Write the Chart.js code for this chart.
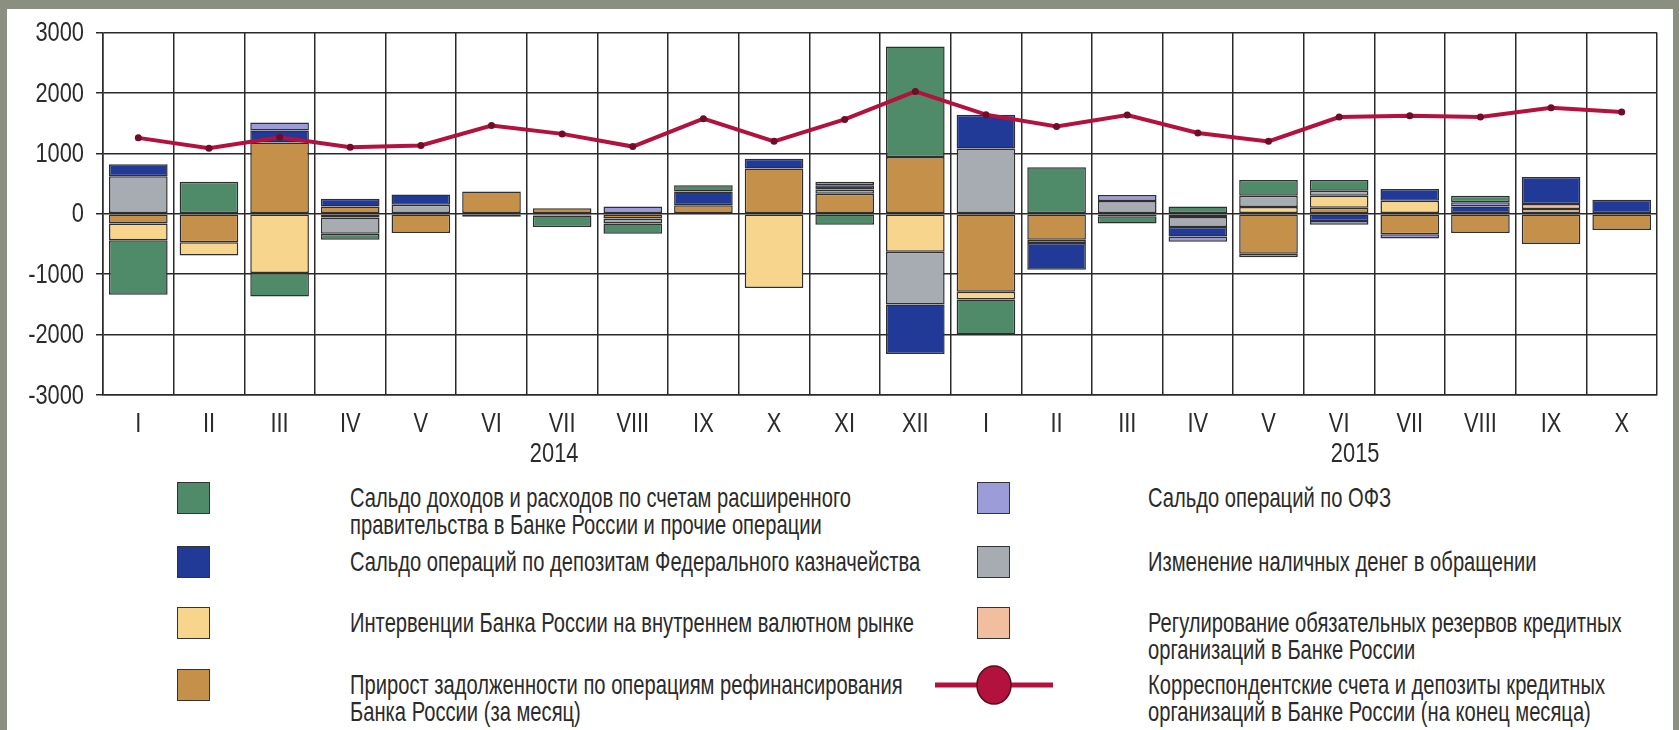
<!DOCTYPE html>
<html>
<head>
<meta charset="utf-8">
<script src="https://cdn.jsdelivr.net/npm/chart.js@4.4.1/dist/chart.umd.min.js"></script>
<style>
  html, body { margin: 0; padding: 0; width: 1679px; height: 730px; overflow: hidden; background: #8b8f7f; }
  #panel { position: absolute; left: 7px; top: 9px; width: 1666px; height: 721px; background: #fff; }
  #chart { position: absolute; left: 0; top: 0; }
  .lg-box { position: absolute; width: 33px; height: 32px; border: 1.5px solid #333; box-sizing: border-box; }
  .lg-text { position: absolute; font-family: "Liberation Sans", Arial, sans-serif;
             font-size: 28px; line-height: 26.5px; color: #2b2b2b; white-space: pre;
             transform: scaleX(0.72); transform-origin: 0 0; }
  .lg-line { position: absolute; }
</style>
</head>
<body>
<div id="panel">
  <canvas id="chart" width="1666" height="461"></canvas>
  <div id="legend"></div>
</div>
<script>
// months on the axis, 2014 I..XII and 2015 I..X
const months = ['I','II','III','IV','V','VI','VII','VIII','IX','X','XI','XII',
                'I','II','III','IV','V','VI','VII','VIII','IX','X'];
const years = ['2014', '2015'];

// monthly flows, bn rub
const flowRefi     = [-160,-470,1180, 120,-320, 370,  90, -80, 140, 750, 330, 940,-1290,-430, -40, -55,-660, 100,-340,-320,-500,-270];
const flowFx       = [-280,-220,-980, -60, null,null,null,null,null,-1230,null,-630,-130, -55, null,null, 110, 200, 215, null, 80, null];
const flowReserves = [null,null,null,null,null,null,null,null,null,null,null,null,null,null,null,null,null,null,null,null, 80, null];
const flowCash     = [ 620,null,null,-270, 150,null, -30, -80,null,null,  70,-870,1080,null, 210,-165, 190,  80, null,null,null,null];
const flowTreasury = [ 200,null, 200, 130, 170, -50,null,null, 230, 160,  70,-820, 560,-440, null,-155, null,-120, 195, 120, 450, 230];
const flowOfz      = [null,null, 130,null,null,null,null, 120,null,null,  60,null,null,null, 100, -90, -60, -60, -70,  70, null,null];
const flowGov      = [-900, 530,-390,-100,null,null,-190,-170, 100,null,-180,1830,-580, 770,-120, 120, 260, 180, null, 110, null,null];
const corrAccounts = [1256,1085,1266,1101,1129,1459,1322,1112,1573,1198,1562,2025,1640,1446,1635,1336,1198,1600,1623,1600,1755,1685];

const labelGov = 'Сальдо доходов и расходов по счетам расширенного\nправительства в Банке России и прочие операции';
const labelTreasury = 'Сальдо операций по депозитам Федерального казначейства';
const labelFx = 'Интервенции Банка России на внутреннем валютном рынке';
const labelRefi = 'Прирост задолженности по операциям рефинансирования\nБанка России (за месяц)';
const labelOfz = 'Сальдо операций по ОФЗ';
const labelCash = 'Изменение наличных денег в обращении';
const labelReserves = 'Регулирование обязательных резервов кредитных\nорганизаций в Банке России';
const labelCorr = 'Корреспондентские счета и депозиты кредитных\nорганизаций в Банке России (на конец месяца)';

const COLORS = {
  gov: '#4f8b69', treasury: '#213a98', fx: '#f7d58c', refi: '#c4904a',
  ofz: '#9c9cd9', cash: '#a7acb3', reserves: '#f1bfa0', corr: '#b3123f'
};

const AXIS_FONT = '28px "Liberation Sans", Arial, sans-serif';
const SQUEEZE = 0.78;   // condensed look of the original typeface
const TEXT = '#2b2b2b';
const GRID = '#2a2a2a';

function barSet(label, data, color) {
  return {
    type: 'bar', label: label, data: data, backgroundColor: color,
    borderColor: '#2f2f2f', borderWidth: 1.5, borderSkipped: false,
    stack: 'flows', order: 0, barPercentage: 0.83, categoryPercentage: 1.0
  };
}

// stacking order from zero outwards
const datasets = [
  barSet(labelRefi, flowRefi, COLORS.refi),
  barSet(labelFx, flowFx, COLORS.fx),
  barSet(labelReserves, flowReserves, COLORS.reserves),
  barSet(labelCash, flowCash, COLORS.cash),
  barSet(labelTreasury, flowTreasury, COLORS.treasury),
  barSet(labelOfz, flowOfz, COLORS.ofz),
  barSet(labelGov, flowGov, COLORS.gov),
  {
    type: 'line', label: labelCorr, data: corrAccounts, stack: 'corr', order: -1,
    borderColor: COLORS.corr, borderWidth: 4, tension: 0,
    pointRadius: 3.5, pointBackgroundColor: '#6e0d25', pointBorderWidth: 0
  }
];

function squeezedText(ctx, text, x, y, align) {
  ctx.save();
  ctx.translate(x, y);
  ctx.scale(SQUEEZE, 1);
  ctx.textAlign = align;
  ctx.fillText(text, 0, 0);
  ctx.restore();
}

// tick labels and year captions, drawn narrow like the source font
const axisText = {
  id: 'axisText',
  afterDraw(chart) {
    const ctx = chart.ctx, xs = chart.scales.x, ys = chart.scales.y;
    ctx.save();
    ctx.font = AXIS_FONT;
    ctx.fillStyle = TEXT;
    ctx.textBaseline = 'middle';
    ys.ticks.forEach(t => squeezedText(ctx, String(t.value), chart.chartArea.left - 19, ys.getPixelForValue(t.value) + 1, 'right'));
    chart.data.labels.forEach((lab, i) => squeezedText(ctx, lab, xs.getPixelForValue(i), 415, 'center'));
    const spots = [xs.getPixelForValue(6) - 8, xs.getPixelForValue(17) + 16];
    years.forEach((y, i) => squeezedText(ctx, y, spots[i], 445, 'center'));
    ctx.restore();
  }
};

new Chart(document.getElementById('chart'), {
  data: { labels: months, datasets: datasets },
  plugins: [axisText],
  options: {
    responsive: false,
    animation: false,
    devicePixelRatio: 1,
    layout: { padding: { top: 23.5, right: 16, left: 0, bottom: 0 } },
    plugins: { legend: { display: false }, tooltip: { enabled: false } },
    scales: {
      x: {
        stacked: true,
        grid: { color: GRID, lineWidth: 1.5, drawTicks: false, offset: true },
        border: { color: GRID, width: 1.5 },
        ticks: { display: false },
        afterFit(scale) { scale.height = 75; }
      },
      y: {
        stacked: true,
        min: -3000, max: 3000,
        grid: { color: GRID, lineWidth: 1.5, tickLength: 7 },
        border: { color: GRID, width: 1.5 },
        ticks: { display: false, stepSize: 1000 },
        afterFit(scale) { scale.width = 96; }
      }
    }
  }
});

// legend (two columns) built from the dataset labels
const legendItems = [
  { label: labelGov, color: COLORS.gov, col: 0, row: 0 },
  { label: labelTreasury, color: COLORS.treasury, col: 0, row: 1 },
  { label: labelFx, color: COLORS.fx, col: 0, row: 2 },
  { label: labelRefi, color: COLORS.refi, col: 0, row: 3 },
  { label: labelOfz, color: COLORS.ofz, col: 1, row: 0 },
  { label: labelCash, color: COLORS.cash, col: 1, row: 1 },
  { label: labelReserves, color: COLORS.reserves, col: 1, row: 2 },
  { label: labelCorr, color: COLORS.corr, col: 1, row: 3, line: true }
];
const rowCenters = [489, 553, 614, 676];
const colBoxX = [170, 970];
const colTextX = [343, 1141];

const legend = document.getElementById('legend');
legendItems.forEach(item => {
  const cy = rowCenters[item.row];
  if (item.line) {
    const svg = document.createElementNS('http://www.w3.org/2000/svg', 'svg');
    svg.setAttribute('class', 'lg-line');
    svg.setAttribute('width', '118');
    svg.setAttribute('height', '44');
    svg.style.left = (colBoxX[item.col] - 42) + 'px';
    svg.style.top = (cy - 22) + 'px';
    svg.innerHTML = '<line x1="0" y1="22" x2="118" y2="22" stroke="' + item.color + '" stroke-width="5"/>' +
                    '<ellipse cx="59" cy="22" rx="17" ry="19" fill="' + item.color + '" stroke="#5a0a1c" stroke-width="1.5"/>';
    legend.appendChild(svg);
  } else {
    const box = document.createElement('div');
    box.className = 'lg-box';
    box.style.left = colBoxX[item.col] + 'px';
    box.style.top = (cy - 16) + 'px';
    box.style.background = item.color;
    legend.appendChild(box);
  }
  const txt = document.createElement('div');
  txt.className = 'lg-text';
  txt.style.left = colTextX[item.col] + 'px';
  txt.style.top = (cy - 13) + 'px';
  txt.textContent = item.label;
  legend.appendChild(txt);
});
</script>
</body>
</html>
